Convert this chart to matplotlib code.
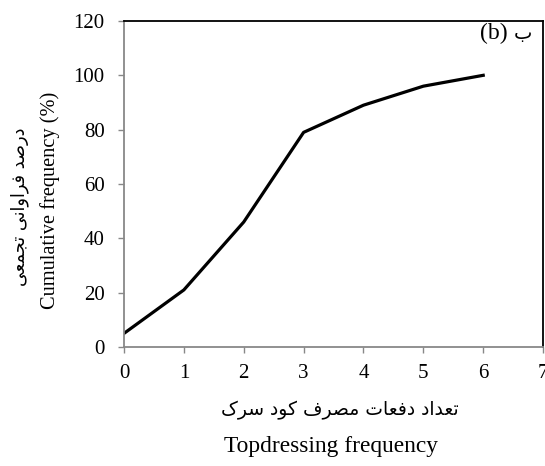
import matplotlib.pyplot as plt

# data
freq = [0, 1, 2, 3, 4, 5, 6]
cum_pct = [5, 21, 46, 79, 89, 96, 100]

x_ticks = [0, 1, 2, 3, 4, 5, 6, 7]
y_ticks = [0, 20, 40, 60, 80, 100, 120]

xlabel_fa = "تعداد دفعات مصرف کود سرک"
xlabel_en = "Topdressing frequency"
ylabel_fa = "درصد فراوانی تجمعی"
ylabel_en = "Cumulative frequency (%)"
panel_fa = "ب"
panel_en = "(b)"

# simple persian shaping (matplotlib has no complex text layout)
# letter: (isolated, final, initial, medial); 2-tuple = joins only to the right
FORMS = {
    'ا': ('\uFE8D', '\uFE8E'),
    'د': ('\uFEA9', '\uFEAA'),
    'ر': ('\uFEAD', '\uFEAE'),
    'و': ('\uFEED', '\uFEEE'),
    'ب': ('\uFE8F', '\uFE90', '\uFE91', '\uFE92'),
    'ت': ('\uFE95', '\uFE96', '\uFE97', '\uFE98'),
    'ج': ('\uFE9D', '\uFE9E', '\uFE9F', '\uFEA0'),
    'س': ('\uFEB1', '\uFEB2', '\uFEB3', '\uFEB4'),
    'ص': ('\uFEB9', '\uFEBA', '\uFEBB', '\uFEBC'),
    'ع': ('\uFEC9', '\uFECA', '\uFECB', '\uFECC'),
    'ف': ('\uFED1', '\uFED2', '\uFED3', '\uFED4'),
    'م': ('\uFEE1', '\uFEE2', '\uFEE3', '\uFEE4'),
    'ن': ('\uFEE5', '\uFEE6', '\uFEE7', '\uFEE8'),
    'ی': ('\uFBFC', '\uFBFD', '\uFBFE', '\uFBFF'),
    'ک': ('\uFB8E', '\uFB8F', '\uFB90', '\uFB91'),
}


def shape(text):
    out = []
    for i, ch in enumerate(text):
        if ch not in FORMS:
            out.append(ch)
            continue
        prev = text[i - 1] if i > 0 else ''
        nxt = text[i + 1] if i + 1 < len(text) else ''
        join_prev = prev in FORMS and len(FORMS[prev]) == 4
        join_next = len(FORMS[ch]) == 4 and nxt in FORMS
        f = FORMS[ch]
        if join_prev and join_next:
            out.append(f[3])
        elif join_prev:
            out.append(f[1])
        elif join_next:
            out.append(f[2])
        else:
            out.append(f[0])
    return ''.join(reversed(out))


plt.rcParams['font.family'] = ['Liberation Serif', 'DejaVu Sans']
fa_font = ['DejaVu Sans']

fig = plt.figure(figsize=(5.45, 4.66), dpi=100)
ax = fig.add_axes([0.2275, 0.2554, 0.769, 0.6996])

ax.plot(freq, cum_pct, color='black', linewidth=2.3)

ax.set_xlim(0, 7)
ax.set_ylim(0, 120)
ax.set_xticks(x_ticks)
ax.set_yticks(y_ticks)
ax.tick_params(direction='out', length=4, width=1, color='#888888',
               labelsize=15)
ax.tick_params(axis='y', pad=10)
ax.tick_params(axis='x', pad=8)

for s in ['left', 'bottom']:
    ax.spines[s].set_color('#888888')
    ax.spines[s].set_linewidth(1.3)
for s in ['top', 'right']:
    ax.spines[s].set_color('black')
    ax.spines[s].set_linewidth(1.3)

# axis titles (persian + english)
fig.text(0.624, 0.12, shape(xlabel_fa), family=fa_font, fontsize=13.5,
         ha='center', va='center')
fig.text(0.607, 0.041, xlabel_en, fontsize=16.8, ha='center', va='center')
fig.text(0.037, 0.556, shape(ylabel_fa), family=fa_font, fontsize=12.8,
         ha='center', va='center', rotation=90)
fig.text(0.092, 0.569, ylabel_en, fontsize=14.7, ha='center', va='center',
         rotation=90)

# panel tag
ax.text(0.916, 0.963, panel_en, transform=ax.transAxes, fontsize=17,
        ha='right', va='center')
ax.text(0.974, 0.963, shape(panel_fa), transform=ax.transAxes,
        family=fa_font, fontsize=14, ha='right', va='center')

fig.savefig('out.png', dpi=100)
